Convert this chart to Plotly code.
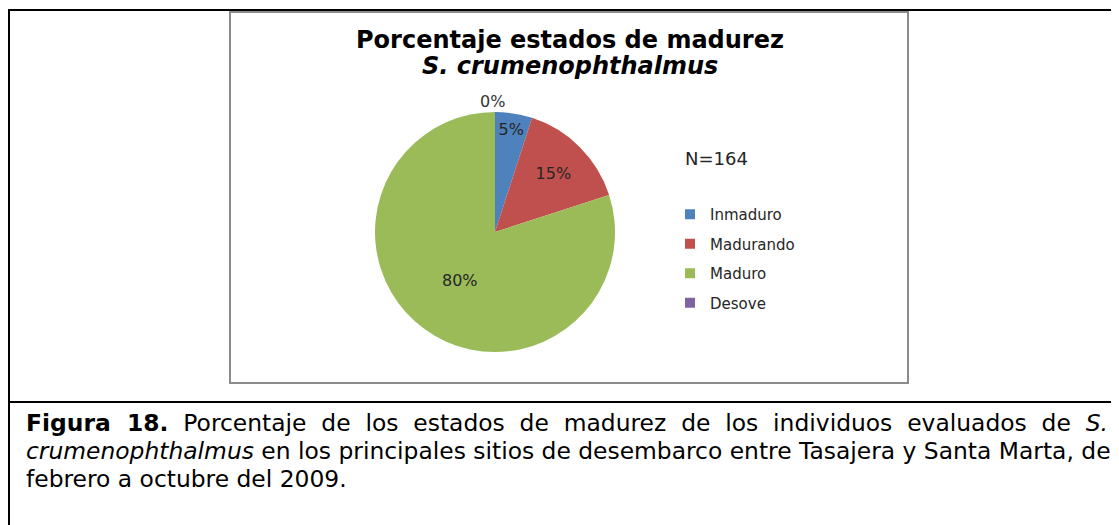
import plotly.graph_objects as go

# ---- data ----
estados = ["Inmaduro", "Madurando", "Maduro", "Desove"]
porcentajes = [5, 15, 80, 0]
colores = ["#4F81BD", "#C0504D", "#9BBB59", "#8064A2"]
n_total = 164
titulo_1 = "Porcentaje estados de madurez"
titulo_2 = "S. crumenophthalmus"

W, H = 1119, 525
OFF = 8  # page body margin


def px(x):
    return (x - OFF) / W


def py(y):
    return 1 - (y - OFF) / H


FONT = "DejaVu Sans"
TXT = "#262626"

fig = go.Figure()

cx, cy, r = 495, 232, 120
fig.add_trace(go.Pie(
    labels=estados,
    values=porcentajes,
    marker=dict(colors=colores, line=dict(width=0)),
    sort=False,
    direction="clockwise",
    rotation=0,
    texttemplate="%{value}%",
    textposition="inside",
    insidetextorientation="horizontal",
    textfont=dict(family=FONT, size=16, color=TXT),
    domain=dict(x=[px(cx - r), px(cx + r)], y=[py(cy + r), py(cy - r)]),
    hoverinfo="label+percent",
    showlegend=False,
))

# legend entries (one per state, same colours as the slices)
for i, (lab, col) in enumerate(zip(estados, colores)):
    fig.add_trace(go.Scatter(
        x=[None], y=[None], mode="markers", name=lab, legendgroup=lab,
        marker=dict(symbol="square", size=10, color=col),
        showlegend=True, hoverinfo="skip",
    ))

annotations = [
    dict(text="<b>" + titulo_1 + "</b>", x=px(570), y=py(40), xanchor="center", yanchor="middle",
         font=dict(family=FONT, size=24, color="black")),
    dict(text="<b><i>" + titulo_2 + "</i></b>", x=px(570), y=py(66), xanchor="center", yanchor="middle",
         font=dict(family=FONT, size=24, color="black")),
    dict(text=f"{porcentajes[3]}%", x=px(492), y=py(102), xanchor="center", yanchor="middle",
         font=dict(family=FONT, size=16, color="#333333")),
    dict(text=f"N={n_total}", x=px(683), y=py(158), xanchor="left", yanchor="middle",
         font=dict(family=FONT, size=18, color=TXT)),
]

NB = "\u00a0"
G = NB * 2
cap_font = dict(family=FONT, size=23.4, color="black")
line1 = ("<b>Figura" + G + "18.</b>" + G + "Porcentaje" + G + "de" + G + "los" + G +
         "estados" + G + "de" + G + "madurez" + G + "de" + G + "los" + G +
         "individuos" + G + "evaluados" + G + "de" + G + "<i>S.</i>")
line2 = "<i>crumenophthalmus</i> en los principales sitios de desembarco entre Tasajera y Santa Marta, de"
line3 = "febrero a octubre del 2009."
for t, y in [(line1, 423), (line2, 451), (line3, 479)]:
    annotations.append(dict(text=t, x=px(24), y=py(y), xanchor="left", yanchor="middle", font=cap_font))

for a in annotations:
    a.update(xref="paper", yref="paper", showarrow=False)

shapes = [
    dict(type="line", x0=px(9), x1=px(9), y0=py(9), y1=py(540), line=dict(color="black", width=2)),
    dict(type="line", x0=px(8), x1=px(1130), y0=py(10), y1=py(10), line=dict(color="black", width=2)),
    dict(type="line", x0=px(8), x1=px(1130), y0=py(402), y1=py(402), line=dict(color="black", width=2)),
    dict(type="rect", x0=px(230), x1=px(908), y0=py(12), y1=py(383), line=dict(color="#8c8c8c", width=2)),
]
for s in shapes:
    s.update(xref="paper", yref="paper")

fig.update_layout(
    width=W, height=H,
    margin=dict(l=0, r=0, t=0, b=0),
    paper_bgcolor="white", plot_bgcolor="white",
    annotations=annotations,
    shapes=shapes,
    showlegend=True,
    xaxis=dict(visible=False),
    yaxis=dict(visible=False),
    legend=dict(x=px(670), y=py(198), xanchor="left", yanchor="top",
                font=dict(family=FONT, size=15, color=TXT),
                itemwidth=30, tracegroupgap=7, bgcolor="rgba(0,0,0,0)",
                itemclick=False, itemdoubleclick=False),
    font=dict(family=FONT),
)

fig.write_html("out.html")
